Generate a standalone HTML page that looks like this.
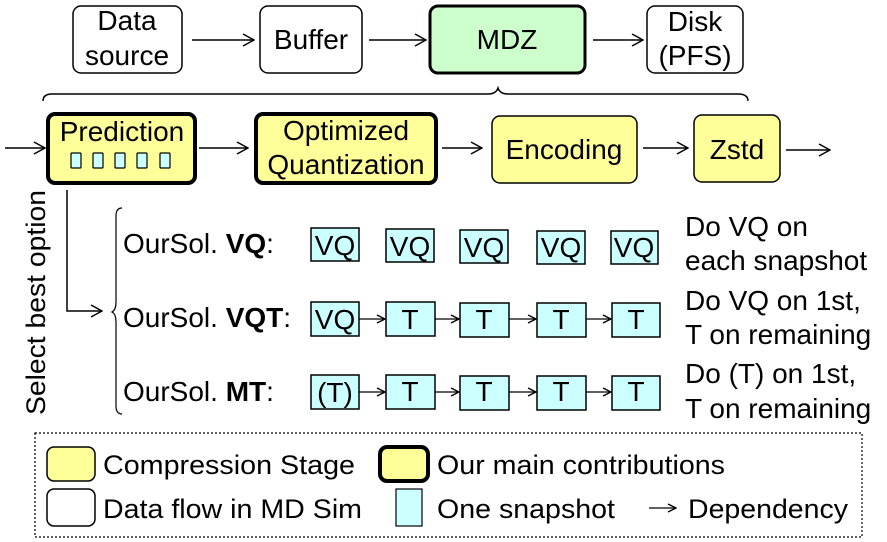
<!DOCTYPE html>
<html><head><meta charset="utf-8"><style>
html,body{margin:0;padding:0;background:#fff;}
svg{display:block;font-family:"Liberation Sans",Arial,sans-serif;}
</style></head><body>
<svg width="887" height="542" viewBox="0 0 887 542" xmlns="http://www.w3.org/2000/svg">
<defs>
<marker id="a" viewBox="0 0 10 10" refX="9" refY="5" markerWidth="10" markerHeight="10" markerUnits="userSpaceOnUse" orient="auto">
<path d="M1,1 L9,5 L1,9" fill="none" stroke="#000" stroke-width="1.3"/></marker>
<marker id="b" viewBox="0 0 14 14" refX="13" refY="7" markerWidth="14" markerHeight="14" markerUnits="userSpaceOnUse" orient="auto">
<path d="M2,1 L13,7 L2,13" fill="none" stroke="#000" stroke-width="1.5"/></marker>
</defs>
<g stroke="#000" fill="none" stroke-width="1.5">
<rect x="73" y="6" width="109" height="67" rx="8" fill="#fff"/>
<rect x="260" y="6" width="102" height="67" rx="8" fill="#fff"/>
<rect x="430" y="6" width="155" height="67" rx="8" fill="#ccffcc" stroke-width="3"/>
<rect x="647" y="6" width="96" height="67" rx="8" fill="#fff"/>
<line x1="192" y1="40" x2="254" y2="40" marker-end="url(#b)"/>
<line x1="369" y1="40" x2="426" y2="40" marker-end="url(#b)"/>
<line x1="593" y1="40" x2="643" y2="40" marker-end="url(#b)"/>
<path d="M43,101 Q43,94 52,94 L488,94 Q496,94 498,88 Q500,94 508,94 L738,94 Q748,94 748,101"/>
<rect x="48" y="114" width="147" height="69" rx="7" fill="#ffff99" stroke-width="4"/>
<rect x="256" y="114" width="180" height="69" rx="7" fill="#ffff99" stroke-width="4"/>
<rect x="492" y="116" width="145" height="67" rx="8" fill="#ffff99"/>
<rect x="694" y="115" width="86" height="67" rx="8" fill="#ffff99"/>
<line x1="5" y1="148" x2="45" y2="148" marker-end="url(#b)"/>
<line x1="199" y1="148" x2="248" y2="148" marker-end="url(#b)"/>
<line x1="442" y1="148" x2="482" y2="148" marker-end="url(#b)"/>
<line x1="643" y1="148" x2="688" y2="148" marker-end="url(#b)"/>
<line x1="786" y1="150" x2="830" y2="150" marker-end="url(#b)"/>
<g fill="#ccffff" stroke-width="1.2">
<rect x="71" y="153" width="10" height="15" rx="1"/>
<rect x="93" y="153" width="10" height="15" rx="1"/>
<rect x="115" y="153" width="10" height="15" rx="1"/>
<rect x="137" y="153" width="10" height="15" rx="1"/>
<rect x="160" y="153" width="10" height="15" rx="1"/>
</g>
<path d="M67,190 L67,311 L102,311" marker-end="url(#b)"/>
<path d="M122,208 Q116,208 116,216 L116,302 Q116,310 112,312 Q116,314 116,322 L116,406 Q116,414 122,414" stroke-width="1.2"/>
<g fill="#ccffff" stroke-width="1.5">
<rect x="311" y="228" width="48" height="33"/>
<rect x="386" y="229" width="48" height="33"/>
<rect x="460" y="230" width="48" height="33"/>
<rect x="537" y="231" width="48" height="33"/>
<rect x="611" y="231" width="47" height="33"/>
<rect x="311" y="302" width="48" height="34"/>
<rect x="386" y="302" width="49" height="34"/>
<rect x="460" y="303" width="49" height="34"/>
<rect x="537" y="303" width="49" height="34"/>
<rect x="612" y="303" width="48" height="34"/>
<rect x="311" y="375" width="48" height="34"/>
<rect x="386" y="375" width="49" height="34"/>
<rect x="460" y="376" width="49" height="34"/>
<rect x="537" y="376" width="49" height="34"/>
<rect x="612" y="376" width="48" height="34"/>
</g>
<g stroke-width="1.3">
<line x1="359" y1="319" x2="385" y2="319" marker-end="url(#a)"/>
<line x1="435" y1="319" x2="459" y2="319" marker-end="url(#a)"/>
<line x1="509" y1="319" x2="536" y2="319" marker-end="url(#a)"/>
<line x1="586" y1="319" x2="611" y2="319" marker-end="url(#a)"/>
<line x1="359" y1="392" x2="385" y2="392" marker-end="url(#a)"/>
<line x1="435" y1="392" x2="459" y2="392" marker-end="url(#a)"/>
<line x1="509" y1="392" x2="536" y2="392" marker-end="url(#a)"/>
<line x1="586" y1="392" x2="611" y2="392" marker-end="url(#a)"/>
</g>
<rect x="35" y="433" width="827" height="104" stroke-dasharray="2,2" stroke-width="1.2"/>
<rect x="47" y="447" width="48" height="34" rx="7" fill="#ffff99"/>
<rect x="380" y="447" width="48" height="34" rx="7" fill="#ffff99" stroke-width="4"/>
<rect x="47" y="489" width="48" height="37" rx="7" fill="#fff"/>
<rect x="396" y="489" width="26" height="37" fill="#ccffff" stroke-width="1.2"/>
</g>
<g font-size="28" fill="#000" text-anchor="middle">
<text x="127" y="30">Data</text><text x="127" y="65">source</text>
<text x="311" y="49">Buffer</text>
<text x="507" y="49">MDZ</text>
<text x="695" y="31">Disk</text><text x="695" y="65">(PFS)</text>
<text x="122" y="141">Prediction</text>
<text x="346" y="140">Optimized</text><text x="346" y="174">Quantization</text>
<text x="564" y="159">Encoding</text>
<text x="737" y="159">Zstd</text>
</g>
<text transform="translate(45,415) rotate(-90)" font-size="27" textLength="225" lengthAdjust="spacingAndGlyphs">Select best option</text>
<g font-size="28">
<text x="123" y="253">OurSol. <tspan font-weight="bold">VQ</tspan>:</text>
<text x="123" y="327">OurSol. <tspan font-weight="bold">VQT</tspan>:</text>
<text x="123" y="401">OurSol. <tspan font-weight="bold">MT</tspan>:</text>
</g>
<g font-size="28" text-anchor="middle">
<text x="335" y="255">VQ</text><text x="410" y="256">VQ</text><text x="484" y="257">VQ</text><text x="561" y="257">VQ</text><text x="634" y="257">VQ</text>
<text x="335" y="329">VQ</text><text x="410" y="329">T</text><text x="484" y="329">T</text><text x="561" y="329">T</text><text x="636" y="329">T</text>
<text x="335" y="402">(T)</text><text x="410" y="401">T</text><text x="484" y="401">T</text><text x="561" y="401">T</text><text x="636" y="401">T</text>
</g>
<g font-size="28">
<text x="685" y="236">Do VQ on</text><text x="685" y="270">each snapshot</text>
<text x="685" y="310">Do VQ on 1st,</text><text x="685" y="344">T on remaining</text>
<text x="685" y="383">Do (T) on 1st,</text><text x="685" y="418">T on remaining</text>
</g>
<g font-size="27">
<text x="103" y="474" textLength="252" lengthAdjust="spacingAndGlyphs">Compression Stage</text>
<text x="437" y="474" textLength="288" lengthAdjust="spacingAndGlyphs">Our main contributions</text>
<text x="103" y="518" textLength="259" lengthAdjust="spacingAndGlyphs">Data flow in MD Sim</text>
<text x="437" y="518" textLength="178" lengthAdjust="spacingAndGlyphs">One snapshot</text>
<text x="688" y="518" textLength="160" lengthAdjust="spacingAndGlyphs">Dependency</text>
</g>
<line x1="649" y1="508" x2="676" y2="508" stroke="#000" stroke-width="1.3" marker-end="url(#a)"/>
</svg>
</body></html>
